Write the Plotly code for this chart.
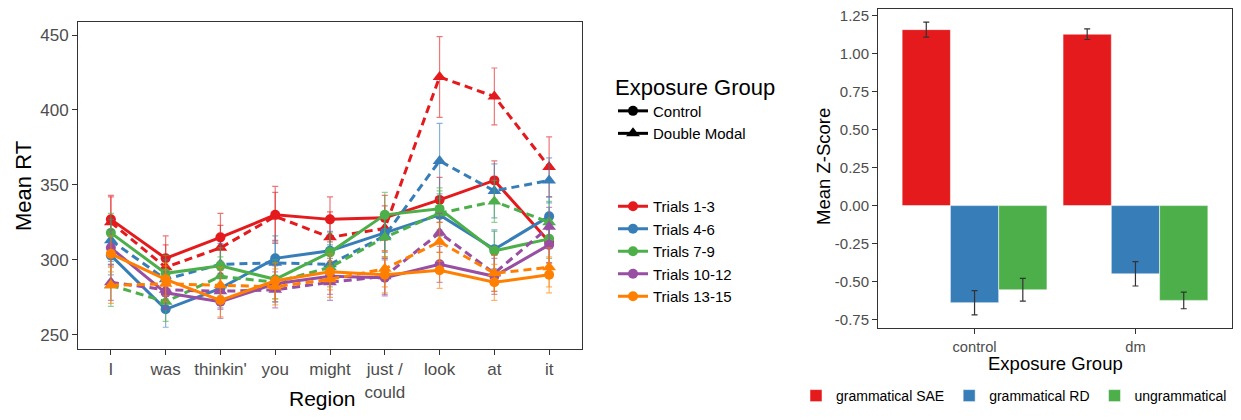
import plotly.graph_objects as go

# ---------------- data: left chart (Mean RT by region) ----------------
regions = ["I", "was", "thinkin'", "you", "might", "just / could", "look", "at", "it"]
region_ticktext = ["I", "was", "thinkin'", "you", "might", "just /<br>could", "look", "at", "it"]
trial_groups = ["Trials 1-3", "Trials 4-6", "Trials 7-9", "Trials 10-12", "Trials 13-15"]
exposure_groups = ["Control", "Double Modal"]
rt_ticks = [250, 300, 350, 400, 450]

# Control (solid lines, circles)
rt_control_t1 = [327, 301, 315, 330, 327, 328, 340, 353, 312]
rt_control_t2 = [303, 267, 281, 301, 306, 318, 330, 307, 329]
rt_control_t3 = [318, 291, 296, 287, 305, 330, 334, 306, 314]
rt_control_t4 = [308, 278, 272, 284, 289, 288, 297, 289, 310]
rt_control_t5 = [304, 287, 273, 286, 292, 290, 293, 285, 290]
se_control_t1 = [16, 15, 16, 19, 15, 15, 15, 13, 14]
se_control_t2 = [13, 12, 13, 15, 13, 13, 14, 13, 13]
se_control_t3 = [13, 12, 12, 13, 13, 15, 14, 13, 13]
se_control_t4 = [12, 11, 11, 12, 12, 12, 12, 12, 12]
se_control_t5 = [12, 11, 11, 12, 12, 12, 12, 12, 12]

# Double Modal (dashed lines, triangles)
rt_dm_t1 = [325, 295, 308, 329, 315, 321, 422, 409, 362]
rt_dm_t2 = [313, 287, 297, 298, 297, 316, 366, 346, 353]
rt_dm_t3 = [283, 272, 289, 285, 295, 315, 331, 339, 325]
rt_dm_t4 = [285, 280, 279, 280, 285, 289, 318, 291, 322]
rt_dm_t5 = [283, 284, 283, 282, 287, 294, 312, 291, 295]
se_dm_t1 = [17, 15, 15, 16, 17, 15, 27, 19, 20]
se_dm_t2 = [14, 13, 14, 14, 13, 14, 25, 18, 15]
se_dm_t3 = [14, 13, 13, 13, 13, 14, 15, 14, 14]
se_dm_t4 = [12, 12, 12, 12, 12, 12, 13, 12, 13]
se_dm_t5 = [12, 12, 12, 12, 12, 12, 13, 12, 13]

# ---------------- data: right chart (Mean Z-Score) ----------------
exposure_cats = ["control", "dm"]
conditions = ["grammatical SAE", "grammatical RD", "ungrammatical"]
z_sae = [1.16, 1.13]
z_rd = [-0.64, -0.45]
z_ungr = [-0.555, -0.625]
z_sae_se = [0.05, 0.035]
z_rd_se = [0.08, 0.08]
z_ungr_se = [0.075, 0.055]
z_ticks = [-0.75, -0.5, -0.25, 0.0, 0.25, 0.5, 0.75, 1.0, 1.25]
z_ticktext = ["-0.75", "-0.50", "-0.25", "0.00", "0.25", "0.50", "0.75", "1.00", "1.25"]

# ---------------- styling ----------------
set1 = ["#E41A1C", "#377EB8", "#4DAF4A", "#984EA3", "#FF7F00"]
FONT = "Liberation Sans, Arial, sans-serif"
PAGE_W, PAGE_H, BODY = 1241, 420, 8          # browser window and default body margin
W, H = PAGE_W - 2 * BODY, PAGE_H - 2 * BODY  # figure size so the page fits exactly


def PX(x):  # window pixel -> paper x
    return min(max((x - BODY) / W, 0.0), 1.0)


def PY(y):  # window pixel -> paper y
    return min(max(1 - (y - BODY) / H, 0.0), 1.0)


def rgba(hex_color, a):
    h = hex_color.lstrip("#")
    r, g, b = int(h[0:2], 16), int(h[2:4], 16), int(h[4:6], 16)
    return f"rgba({r},{g},{b},{a})"


control_vals = [rt_control_t1, rt_control_t2, rt_control_t3, rt_control_t4, rt_control_t5]
control_se = [se_control_t1, se_control_t2, se_control_t3, se_control_t4, se_control_t5]
dm_vals = [rt_dm_t1, rt_dm_t2, rt_dm_t3, rt_dm_t4, rt_dm_t5]
dm_se = [se_dm_t1, se_dm_t2, se_dm_t3, se_dm_t4, se_dm_t5]

fig = go.Figure()

for i, tg in enumerate(trial_groups):
    c = set1[i]
    for grp, vals, ses, dash, sym, msize in [
        ("Control", control_vals[i], control_se[i], "solid", "circle", 10),
        ("Double Modal", dm_vals[i], dm_se[i], "8px,5px", "triangle-up", 12),
    ]:
        fig.add_trace(go.Scatter(
            x=regions, y=vals, mode="lines+markers",
            name=f"{tg} – {grp}",
            line=dict(color=c, width=3, dash=dash),
            marker=dict(color=c, symbol=sym, size=msize),
            error_y=dict(type="data", array=ses, visible=True,
                         color=rgba(c, 0.6), thickness=1.2, width=3),
            xaxis="x", yaxis="y", showlegend=False,
        ))

# legend entries: exposure group (shape / linetype)
fig.add_trace(go.Scatter(x=[None], y=[None], mode="lines+markers", name="Control",
                         line=dict(color="black", width=3),
                         marker=dict(color="black", symbol="circle", size=10),
                         legend="legend", xaxis="x", yaxis="y"))
fig.add_trace(go.Scatter(x=[None], y=[None], mode="lines+markers", name="Double Modal",
                         line=dict(color="black", width=3),
                         marker=dict(color="black", symbol="triangle-up", size=12),
                         legend="legend", xaxis="x", yaxis="y"))
# legend entries: trial groups (colour)
for i, tg in enumerate(trial_groups):
    fig.add_trace(go.Scatter(x=[None], y=[None], mode="lines+markers", name=tg,
                             line=dict(color=set1[i], width=3),
                             marker=dict(color=set1[i], symbol="circle", size=10),
                             legend="legend2", xaxis="x", yaxis="y"))

# right chart bars
for vals, ses, name, c in [
    (z_sae, z_sae_se, conditions[0], set1[0]),
    (z_rd, z_rd_se, conditions[1], set1[1]),
    (z_ungr, z_ungr_se, conditions[2], set1[2]),
]:
    fig.add_trace(go.Bar(
        x=exposure_cats, y=vals, name=name,
        marker=dict(color=c, line=dict(color=rgba("#ffffff", 0.5), width=1)),
        error_y=dict(type="data", array=ses, visible=True,
                     color="#333333", thickness=1.2, width=3),
        xaxis="x2", yaxis="y2", legend="legend3",
    ))

# geometry in window pixels
L_x0, L_x1, L_y0, L_y1 = 78, 582, 22, 349
R_x0, R_x1, R_y0, R_y1 = 878, 1232, 9, 328

axis_common = dict(showgrid=False, zeroline=False, showline=True, mirror=True,
                   linecolor="#333333", linewidth=1, ticks="outside", ticklen=5,
                   tickcolor="#333333", tickwidth=1)

fig.update_layout(
    width=W, height=H,
    margin=dict(l=0, r=0, t=0, b=0),
    paper_bgcolor="white", plot_bgcolor="white",
    font=dict(family=FONT, color="black"),
    barmode="group", bargap=0.1, bargroupgap=0,
    xaxis=dict(domain=[PX(L_x0), PX(L_x1)], type="category",
               categoryorder="array", categoryarray=regions,
               tickmode="array", tickvals=regions, ticktext=region_ticktext,
               range=[-0.6, 8.6], anchor="y", automargin=False,
               tickfont=dict(size=17, color="#4D4D4D", family=FONT), **axis_common),
    yaxis=dict(domain=[PY(L_y1), PY(L_y0)], range=[240.5, 458.7],
               tickvals=rt_ticks, anchor="x", automargin=False,
               tickfont=dict(size=17, color="#4D4D4D", family=FONT), **axis_common),
    xaxis2=dict(domain=[PX(R_x0), PX(R_x1)], type="category",
                categoryorder="array", categoryarray=exposure_cats,
                range=[-0.6, 1.6], anchor="y2", automargin=False,
                tickfont=dict(size=14.7, color="#4D4D4D", family=FONT), **axis_common),
    yaxis2=dict(domain=[PY(R_y1), PY(R_y0)], range=[-0.807, 1.296],
                tickvals=z_ticks, ticktext=z_ticktext, anchor="x2", automargin=False,
                ticklabeloverflow="allow",
                tickfont=dict(size=15, color="#4D4D4D", family=FONT), **axis_common),
    legend=dict(x=PX(613), y=PY(66), xanchor="left", yanchor="top",
                title=dict(text="Exposure Group", font=dict(size=22, family=FONT)),
                font=dict(size=15, family=FONT), bgcolor="rgba(0,0,0,0)",
                itemwidth=30, tracegroupgap=0),
    legend2=dict(x=PX(613), y=PY(190), xanchor="left", yanchor="top",
                 font=dict(size=15, family=FONT), bgcolor="rgba(0,0,0,0)",
                 itemwidth=30, tracegroupgap=0),
    legend3=dict(x=PX(1232), y=0, xanchor="right", yanchor="bottom",
                 orientation="h", font=dict(size=14, family=FONT),
                 bgcolor="rgba(0,0,0,0)", itemwidth=30),
    annotations=[
        dict(text="Mean RT", x=PX(24), y=PY(186), xref="paper", yref="paper",
             textangle=-90, showarrow=False, font=dict(size=22, family=FONT),
             xanchor="center", yanchor="middle"),
        dict(text="Region", x=PX(322), y=0, xref="paper", yref="paper",
             showarrow=False, font=dict(size=21, family=FONT),
             xanchor="center", yanchor="bottom"),
        dict(text="Mean Z-Score", x=PX(823), y=PY(167), xref="paper", yref="paper",
             textangle=-90, showarrow=False, font=dict(size=18.5, family=FONT),
             xanchor="center", yanchor="middle"),
        dict(text="Exposure Group", x=PX((R_x0 + R_x1) / 2), y=PY(363), xref="paper",
             yref="paper", showarrow=False, font=dict(size=18.5, family=FONT),
             xanchor="center", yanchor="middle"),
    ],
)

fig.write_html("out.html")
